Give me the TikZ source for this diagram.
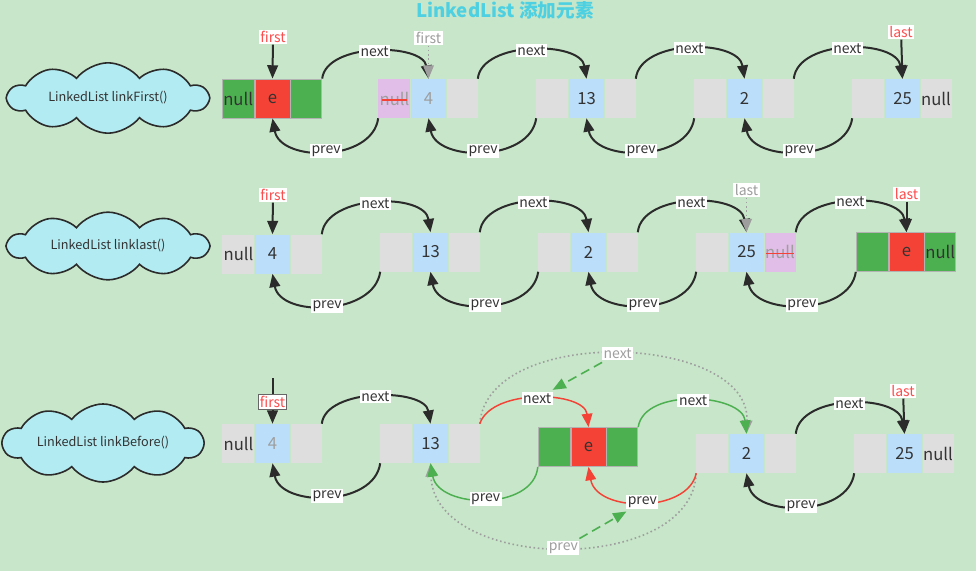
\documentclass[tikz,border=0pt]{standalone}
\usepackage{fontspec}
\setmainfont{Noto Sans CJK SC}
\usetikzlibrary{positioning,arrows.meta,shapes.symbols}

\definecolor{bg}{HTML}{C8E6C9}
\definecolor{ink}{HTML}{2B2B2B}
\definecolor{txt}{HTML}{333333}
\definecolor{fade}{HTML}{9E9E9E}
\definecolor{cellgray}{HTML}{DEDEDE}
\definecolor{cellblue}{HTML}{BBDEFB}
\definecolor{cellpurple}{HTML}{E1BEE7}
\definecolor{newgreen}{HTML}{4CAF50}
\definecolor{newred}{HTML}{F44336}
\definecolor{ptrred}{HTML}{FF4D4D}
\definecolor{titlec}{HTML}{4DD0E1}
\definecolor{cloudc}{HTML}{B2EBF2}

\tikzset{
  box/.style={minimum height=29.25pt, inner sep=0pt, text=txt,
    font=\fontsize{12.5}{14}\selectfont},
  lbox/.style={box, minimum width=24pt},
  mbox/.style={box, minimum width=26.25pt, fill=cellblue},
  rbox/.style={box, minimum width=23.25pt},
  oldc/.style={fill=cellgray},
  delc/.style={fill=cellpurple, text=fade},
  newc/.style={fill=newgreen, draw=black!30, line width=0.6pt},
  newe/.style={fill=newred, draw=black!30, line width=0.6pt},
  lbl/.style={fill=white, inner sep=1.2pt, text=txt, font=\fontsize{10.5}{12}\selectfont},
  ptr/.style={lbl, text=ptrred},
  link/.style={draw=ink, line width=1.5pt, -{Triangle[length=10pt,width=8pt]}},
  addg/.style={link, draw=newgreen, line width=1.1pt},
  addr/.style={link, draw=newred, line width=1.1pt},
  oldlink/.style={draw=fade, line width=1.2pt, dotted, -{Triangle[length=10pt,width=8pt]}},
  hint/.style={draw=newgreen, line width=1.2pt, dash pattern=on 7pt off 4pt,
    -{Triangle[length=10pt,width=8pt]}},
  strike/.style={draw=newred, line width=1pt},
  idea/.style={cloud, cloud puffs=10, cloud puff arc=105, aspect=3.6, draw=ink,
    line width=1.2pt, fill=cloudc, text=txt, inner sep=0pt,
    minimum width=150pt, minimum height=40pt, font=\fontsize{9.5}{11}\selectfont}
}

\begin{document}
\begin{tikzpicture}[x=0.75pt,y=-0.75pt]
\fill[bg] (0,0) rectangle (976,571);
\useasboundingbox (0,0) rectangle (976,571);
\node[font=\bfseries\fontsize{14}{16}\selectfont, text=titlec] (title) at (505,10) {LinkedList 添加元素};

% linkFirst
\node[idea] (q1) at (108,98) {LinkedList linkFirst()};
\node[mbox,newe] (a1m) at (272.5,98.5) {e};
\node[lbox,newc,left=0pt of a1m] (a1l) {null};
\node[rbox,newc,right=0pt of a1m] (a1r) {};
\node[mbox,text=fade] (a2m) at (428.5,98.5) {4};
\node[lbox,delc,left=0pt of a2m] (a2l) {null};
\node[rbox,oldc,right=0pt of a2m] (a2r) {};
\draw[strike] ([xshift=3pt,yshift=-1pt]a2l.west) -- ([xshift=-3pt,yshift=-1pt]a2l.east);
\node[mbox] (a3m) at (586.5,98.5) {13};
\node[lbox,oldc,left=0pt of a3m] (a3l) {};
\node[rbox,oldc,right=0pt of a3m] (a3r) {};
\node[mbox] (a4m) at (744.5,98.5) {2};
\node[lbox,oldc,left=0pt of a4m] (a4l) {};
\node[rbox,oldc,right=0pt of a4m] (a4r) {};
\node[mbox] (a5m) at (902.5,98.5) {25};
\node[lbox,oldc,left=0pt of a5m] (a5l) {};
\node[rbox,oldc,right=0pt of a5m] (a5r) {null};

\draw[link] (a1r.north east) .. controls +(4,-36) and +(-6,-36) .. node[lbl]{next} (a2m.north);
\draw[link] (a2r.north east) .. controls +(4,-38) and +(-6,-38) .. node[lbl]{next} (a3m.north);
\draw[link] (a3r.north east) .. controls +(4,-40) and +(-6,-40) .. node[lbl]{next} (a4m.north);
\draw[link] (a4r.north east) .. controls +(4,-40) and +(-6,-40) .. node[lbl]{next} (a5m.north);
\draw[link] (a2l.south west) .. controls +(-6,44) and +(8,44) .. node[lbl]{prev} (a1m.south);
\draw[link] (a3l.south west) .. controls +(-6,44) and +(8,44) .. node[lbl]{prev} (a2m.south);
\draw[link] (a4l.south west) .. controls +(-6,44) and +(8,44) .. node[lbl]{prev} (a3m.south);
\draw[link] (a5l.south west) .. controls +(-6,44) and +(8,44) .. node[lbl]{prev} (a4m.south);

\node[ptr] (f1) at (273,37) {first};
\draw[link] (f1) -- (a1m.north);
\node[ptr,text=fade] (f1o) at (428.5,38) {first};
\draw[oldlink] (f1o) -- (a2m.north);
\node[ptr] (l1) at (901,32) {last};
\draw[link] (l1) -- (a5m.north);

% linklast
\node[idea] (q2) at (108,246) {LinkedList linklast()};
\node[mbox] (b1m) at (272.5,254) {4};
\node[lbox,oldc,left=0pt of b1m] (b1l) {null};
\node[rbox,oldc,right=0pt of b1m] (b1r) {};
\node[mbox] (b2m) at (430.5,252) {13};
\node[lbox,oldc,left=0pt of b2m] (b2l) {};
\node[rbox,oldc,right=0pt of b2m] (b2r) {};
\node[mbox] (b3m) at (588.5,252) {2};
\node[lbox,oldc,left=0pt of b3m] (b3l) {};
\node[rbox,oldc,right=0pt of b3m] (b3r) {};
\node[mbox] (b4m) at (746.5,252) {25};
\node[lbox,oldc,left=0pt of b4m] (b4l) {};
\node[rbox,delc,right=0pt of b4m] (b4r) {null};
\draw[strike] ([xshift=1pt,yshift=-1pt]b4r.west) -- ([xshift=-1pt,yshift=-1pt]b4r.east);
\node[mbox,newe] (b5m) at (906.5,252) {e};
\node[lbox,newc,left=0pt of b5m] (b5l) {};
\node[rbox,newc,right=0pt of b5m] (b5r) {null};

\draw[link] (b1r.north east) .. controls +(4,-40) and +(-6,-40) .. node[lbl]{next} (b2m.north);
\draw[link] (b2r.north east) .. controls +(4,-40) and +(-6,-40) .. node[lbl]{next} (b3m.north);
\draw[link] (b3r.north east) .. controls +(4,-40) and +(-6,-40) .. node[lbl]{next} (b4m.north);
\draw[link] (b4r.north east) .. controls +(4,-40) and +(-6,-40) .. node[lbl]{next} (b5m.north);
\draw[link] (b2l.south west) .. controls +(-6,44) and +(8,44) .. node[lbl]{prev} (b1m.south);
\draw[link] (b3l.south west) .. controls +(-6,44) and +(8,44) .. node[lbl]{prev} (b2m.south);
\draw[link] (b4l.south west) .. controls +(-6,44) and +(8,44) .. node[lbl]{prev} (b3m.south);
\draw[link] (b5l.south west) .. controls +(-6,44) and +(8,44) .. node[lbl]{prev} (b4m.south);

\node[ptr] (f2) at (273,195) {first};
\draw[link] (f2) -- (b1m.north);
\node[ptr,text=fade] (l2o) at (746.5,190) {last};
\draw[oldlink] (l2o) -- (b4m.north);
\node[ptr] (l2) at (906.5,194) {last};
\draw[link] (l2) -- (b5m.north);

% linkBefore
\node[idea] (q3) at (103,443) {LinkedList linkBefore()};
\node[mbox,text=fade] (c1m) at (272.5,443.5) {4};
\node[lbox,oldc,left=0pt of c1m] (c1l) {null};
\node[rbox,oldc,right=0pt of c1m] (c1r) {};
\node[mbox] (c2m) at (430.5,443.5) {13};
\node[lbox,oldc,left=0pt of c2m] (c2l) {};
\node[rbox,oldc,right=0pt of c2m] (c2r) {};
\node[mbox,newe] (cem) at (588.5,447) {e};
\node[lbox,newc,left=0pt of cem] (cel) {};
\node[rbox,newc,right=0pt of cem] (cer) {};
\node[mbox] (c3m) at (746.5,453.5) {2};
\node[lbox,oldc,left=0pt of c3m] (c3l) {};
\node[rbox,oldc,right=0pt of c3m] (c3r) {};
\node[mbox] (c4m) at (904.5,453.5) {25};
\node[lbox,oldc,left=0pt of c4m] (c4l) {};
\node[rbox,oldc,right=0pt of c4m] (c4r) {null};

\draw[oldlink] (c2r.north east) .. controls +(8,-100) and +(4,-100) .. node[lbl,text=fade] (on3) {next} (c3m.north);
\draw[oldlink] (c3l.south west) .. controls +(-4,102) and +(4,110) .. node[lbl,text=fade] (op3) {prev} (c2m.south);

\draw[link] (c1r.north east) .. controls +(4,-36) and +(-6,-36) .. node[lbl]{next} (c2m.north);
\draw[link] (c2l.south west) .. controls +(-6,44) and +(8,44) .. node[lbl]{prev} (c1m.south);
\draw[addr] (c2r.north east) .. controls +(12,-36) and +(-4,-36) .. node[lbl] (nn3) {next} (cem.north);
\draw[addg] (cel.south west) .. controls +(-4,44) and +(8,46) .. node[lbl]{prev} (c2m.south);
\draw[addg] (cer.north east) .. controls +(6,-40) and +(-4,-40) .. node[lbl]{next} (c3m.north);
\draw[addr] (c3l.south west) .. controls +(-8,40) and +(8,46) .. node[lbl] (np3) {prev} (cem.south);
\draw[link] (c3r.north east) .. controls +(4,-40) and +(-6,-40) .. node[lbl]{next} (c4m.north);
\draw[link] (c4l.south west) .. controls +(-6,44) and +(8,44) .. node[lbl]{prev} (c3m.south);

\draw[hint, shorten <=2pt, shorten >=2pt] (on3) -- (nn3);
\draw[hint, shorten <=2pt, shorten >=2pt] (op3) -- (np3);

\coordinate (c1top) at (272.5,378);
\draw[link] (c1top) -- node[ptr,draw=black!60,line width=0.6pt,pos=0.52]{first} (c1m.north);
\node[ptr] (l3) at (903,391) {last};
\draw[link] (l3) -- (c4m.north);
\end{tikzpicture}
\end{document}
